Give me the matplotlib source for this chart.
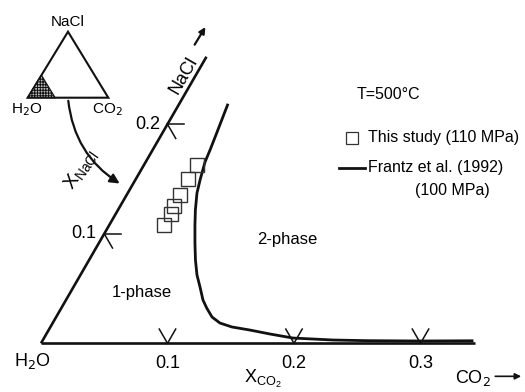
import numpy as np
import matplotlib
matplotlib.use("Agg")
import matplotlib.pyplot as plt
from matplotlib.patches import Polygon

plt.rcParams['font.family'] = ['Liberation Sans', 'DejaVu Sans']
plt.rcParams['hatch.linewidth'] = 0.7

# ternary data: mole fractions of CO2 and NaCl
study_xco2 = [0.0422, 0.0413, 0.0424, 0.0426, 0.0436, 0.0433]
study_xnacl = [0.1628, 0.1503, 0.1351, 0.1251, 0.1184, 0.1083]

frantz_xco2 = [0.0387, 0.0432, 0.0454, 0.0469, 0.0512, 0.0547, 0.0612, 0.0677,
               0.0759, 0.0841, 0.0921, 0.1000, 0.1083, 0.1149, 0.1232, 0.1322,
               0.1435, 0.1591, 0.1767, 0.1968, 0.2293, 0.2565, 0.2986, 0.3396]
frantz_xnacl = [0.2175, 0.1902, 0.1765, 0.1655, 0.1491, 0.1372, 0.1217, 0.1080,
                0.0916, 0.0760, 0.0624, 0.0514, 0.0395, 0.0322, 0.0240, 0.0185,
                0.0149, 0.0121, 0.0085, 0.0048, 0.0030, 0.0024, 0.0021, 0.0023]

co2_ticks = [0.1, 0.2, 0.3]
nacl_ticks = [0.1, 0.2]
co2_max = 0.343
nacl_max = 0.2616

S3 = np.sqrt(3) / 2


def tern(xc, xn):
    xc = np.asarray(xc, float)
    xn = np.asarray(xn, float)
    return xc + xn / 2, xn * S3


fig = plt.figure(figsize=(5.25, 3.92), dpi=100)
ax = fig.add_axes([0, 0, 1, 1])
ax.set_xlim(-0.0324, 0.3826)
ax.set_ylim(-0.0385, 0.2714)
ax.axis('off')

# edges
x, y = tern([0, co2_max], [0, 0])
ax.plot(x, y, color='#111', lw=1.9, solid_capstyle='butt')
x, y = tern([0, 0], [0, nacl_max])
ax.plot(x, y, color='#111', lw=1.9, solid_capstyle='butt')

L = 0.013
for t in co2_ticks:
    for dx, dy in [(-L, L), (0, L)]:
        x, y = tern([t, t + dx], [0, dy])
        ax.plot(x, y, color='#111', lw=1.1)
    x, y = tern(t, 0)
    ax.text(x, y - 0.0095, f'{t:.1f}', ha='center', va='top', fontsize=13)
for t in nacl_ticks:
    for dx, dy in [(L, 0), (L, -L)]:
        x, y = tern([0, dx], [t, t + dy])
        ax.plot(x, y, color='#111', lw=1.1)
    x, y = tern(0, t)
    ax.text(x - 0.006, y, f'{t:.1f}', ha='right', va='center', fontsize=13)

# Frantz et al. curve and this study
x, y = tern(frantz_xco2, frantz_xnacl)
ax.plot(x, y, color='#111', lw=2.0, solid_joinstyle='round')
x, y = tern(study_xco2, study_xnacl)
ax.plot(x, y, 's', ms=9.5, mfc='none', mec='#333', mew=1.0, ls='none')

# labels
ax.text(-0.0071, -0.0140, 'H$_2$O', fontsize=13, ha='center', va='center')
ax.text(0.500, 0.034, 'X$_{\\mathregular{CO_2}}$', fontsize=13, ha='center', va='center',
        transform=ax.transAxes)
ax.text(0.900, 0.036, 'CO$_2$', fontsize=13, ha='center', va='center', transform=ax.transAxes)
ax.annotate('', xy=(0.998, 0.040), xytext=(0.938, 0.040), xycoords='axes fraction',
            arrowprops=dict(arrowstyle='-|>', color='#111', lw=1.2, mutation_scale=9))

ax.text(0.349, 0.807, 'NaCl', fontsize=13, rotation=60, ha='center', va='center',
        transform=ax.transAxes)
ax.annotate('', xy=(0.394, 0.937), xytext=(0.368, 0.880), xycoords='axes fraction',
            arrowprops=dict(arrowstyle='-|>', color='#111', lw=1.6, mutation_scale=9))
ax.text(0.156, 0.566, 'X$_{\\mathregular{NaCl}}$', fontsize=14, rotation=55, ha='center',
        va='center', transform=ax.transAxes)

ax.text(0.739, 0.760, 'T=500\u00b0C', fontsize=11.5, ha='center', va='center',
        transform=ax.transAxes)
ax.plot([0.670], [0.648], 's', ms=8, mfc='none', mec='#333', mew=0.9, transform=ax.transAxes)
ax.text(0.700, 0.648, 'This study (110 MPa)', fontsize=11.5, ha='left', va='center',
        transform=ax.transAxes)
ax.plot([0.645, 0.695], [0.572, 0.572], color='#111', lw=2.0, transform=ax.transAxes)
ax.text(0.700, 0.572, 'Frantz et al. (1992)', fontsize=11.5, ha='left', va='center',
        transform=ax.transAxes)
ax.text(0.862, 0.515, '(100 MPa)', fontsize=11.5, ha='center', va='center',
        transform=ax.transAxes)
ax.text(0.547, 0.388, '2-phase', fontsize=12, ha='center', va='center', transform=ax.transAxes)
ax.text(0.270, 0.255, '1-phase', fontsize=12, ha='center', va='center', transform=ax.transAxes)

# inset ternary sketch
tri_x = [0.0, 1.0, 0.5]
tri_y = [0.0, 0.0, S3]
ins = fig.add_axes([27.7 / 525, 1 - 97.7 / 392, 80.6 / 525, 66 / 392])
ins.set_xlim(0, 1)
ins.set_ylim(0, S3)
ins.axis('off')
ins.add_patch(Polygon(list(zip(tri_x, tri_y)), closed=True, fill=False,
                      edgecolor='#111', lw=1.5, clip_on=False))
f = 0.34
ins.add_patch(Polygon([(0, 0), (f, 0), (f / 2, f * S3)], closed=True, facecolor='#bbb',
                      edgecolor='#111', hatch='++++++', lw=0.9, clip_on=False))
fig.text(68 / 525, 1 - 22 / 392, 'NaCl', fontsize=11, ha='center', va='center')
fig.text(27 / 525, 1 - 110 / 392, 'H$_2$O', fontsize=11, ha='center', va='center')
fig.text(107 / 525, 1 - 110 / 392, 'CO$_2$', fontsize=11, ha='center', va='center')
ax.annotate('', xy=(122 / 525, 1 - 185 / 392), xytext=(68 / 525, 1 - 98 / 392),
            xycoords='axes fraction',
            arrowprops=dict(arrowstyle='-|>', color='#111', lw=1.6, mutation_scale=14,
                            connectionstyle='arc3,rad=0.25'))

fig.savefig('out.png', dpi=100)
